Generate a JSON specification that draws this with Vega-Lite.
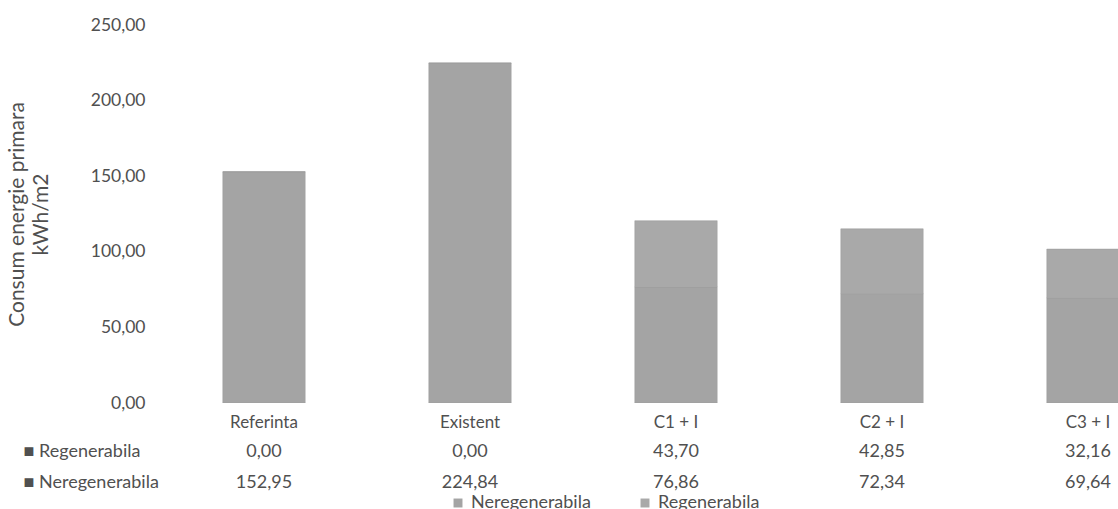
{
  "$schema": "https://vega.github.io/schema/vega-lite/v6.json",
  "padding": {"left": 6, "top": 16, "right": 0, "bottom": 0},
  "background": "white",
  "bounds": "flush",
  "spacing": 33,
  "config": {
    "locale": {"number": {"decimal": ",", "thousands": ".", "grouping": [3], "currency": ["", " lei"]}},
    "font": "Lato",
    "view": {"stroke": null},
    "text": {"font": "Lato", "fontSize": 18, "color": "#505050"}
  },
  "data": {
    "values": [
      {"category": "Referinta", "series": "Neregenerabila", "value": 152.95},
      {"category": "Referinta", "series": "Regenerabila", "value": 0.0},
      {"category": "Existent", "series": "Neregenerabila", "value": 224.84},
      {"category": "Existent", "series": "Regenerabila", "value": 0.0},
      {"category": "C1 + I", "series": "Neregenerabila", "value": 76.86},
      {"category": "C1 + I", "series": "Regenerabila", "value": 43.70},
      {"category": "C2 + I", "series": "Neregenerabila", "value": 72.34},
      {"category": "C2 + I", "series": "Regenerabila", "value": 42.85},
      {"category": "C3 + I", "series": "Neregenerabila", "value": 69.64},
      {"category": "C3 + I", "series": "Regenerabila", "value": 32.16}
    ]
  },
  "resolve": {"scale": {"x": "shared"}},
  "vconcat": [
    {
      "width": 957,
      "height": 378,
      "mark": {"type": "bar", "stroke": "#9a9a9a", "strokeWidth": 0.5, "clip": true},
      "encoding": {
        "x": {
          "field": "category",
          "type": "nominal",
          "sort": ["Referinta", "Existent", "C1 + I", "C2 + I", "C3 + I"],
          "scale": {"range": [0, 1030], "paddingInner": 0.6, "paddingOuter": 0.3},
          "axis": {
            "title": null, "domain": false, "ticks": false, "tickSize": 0, "labelAngle": 0,
            "labelPadding": 11, "labelFontSize": 17, "labelColor": "#505050", "labelFont": "Lato"
          }
        },
        "y": {
          "field": "value",
          "type": "quantitative",
          "stack": "zero",
          "scale": {"domain": [0, 250], "nice": false},
          "axis": {
            "values": [0, 50, 100, 150, 200, 250],
            "format": ".2f",
            "grid": false, "domain": false, "ticks": false, "tickSize": 0,
            "labelPadding": 16, "labelFontSize": 17.5, "labelColor": "#505050", "labelFont": "Lato",
            "title": ["Consum energie primara", "kWh/m2"],
            "titleFontSize": 21, "titleFontWeight": "normal", "titleColor": "#505050", "titleFont": "Lato",
            "titlePadding": 39, "titleLineHeight": 24
          }
        },
        "color": {
          "field": "series",
          "type": "nominal",
          "scale": {"domain": ["Neregenerabila", "Regenerabila"], "range": ["#a4a4a4", "#a9a9a9"]},
          "legend": {
            "title": null,
            "orient": "none",
            "direction": "horizontal",
            "legendX": 288,
            "legendY": 469,
            "symbolType": "square",
            "symbolSize": 80,
            "symbolStrokeWidth": 0,
            "symbolFillColor": "#a0a0a0",
            "labelFontSize": 18,
            "labelColor": "#505050",
            "labelFont": "Lato",
            "columnPadding": 45
          }
        },
        "order": {"field": "series", "sort": "ascending"}
      }
    },
    {
      "width": 957,
      "height": 62,
      "mark": {"type": "text", "fontSize": 18, "color": "#505050", "font": "Lato", "clip": true},
      "encoding": {
        "x": {
          "field": "category",
          "type": "nominal",
          "sort": ["Referinta", "Existent", "C1 + I", "C2 + I", "C3 + I"],
          "axis": null
        },
        "y": {
          "field": "series",
          "type": "nominal",
          "sort": ["Regenerabila", "Neregenerabila"],
          "axis": {
            "title": null, "domain": false, "ticks": false, "tickSize": 0,
            "labelAlign": "left", "labelPadding": 138, "labelFontSize": 18,
            "labelColor": "#505050", "labelFont": "Lato",
            "labelExpr": "'\u25a0 ' + datum.label"
          }
        },
        "text": {"field": "value", "type": "quantitative", "format": ".2f"}
      }
    }
  ]
}
